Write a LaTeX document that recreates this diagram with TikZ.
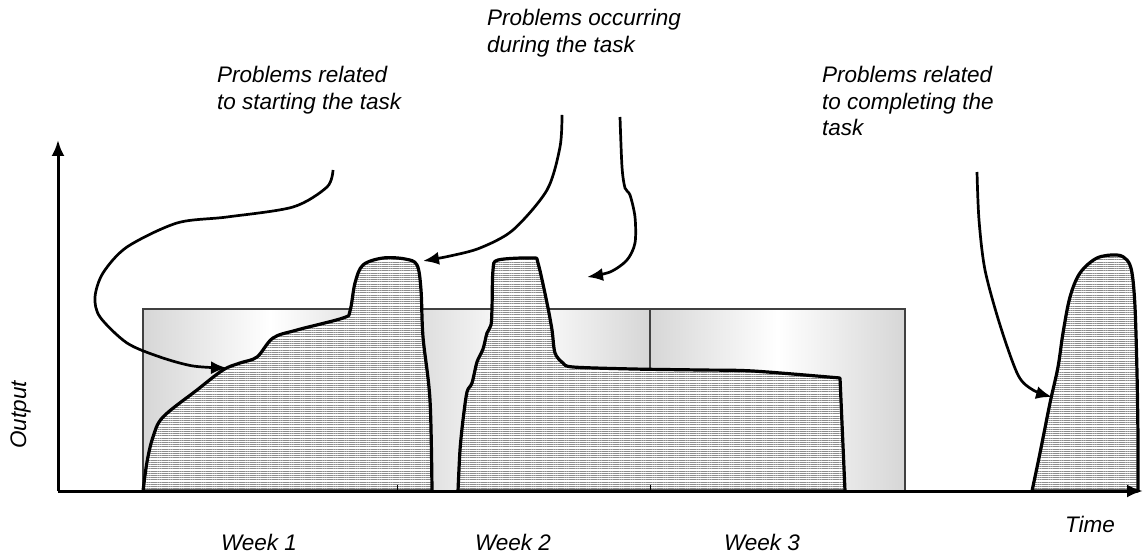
\documentclass[tikz,border=0pt]{standalone}
\usepackage{fontspec}
\setmainfont{Liberation Sans}
\usetikzlibrary{arrows.meta, patterns.meta, positioning}
\tikzset{>={Latex[length=16pt,width=13pt]},
axis/.style={->,line width=3pt},
weekbox/.style={draw=black!75,line width=1.4pt,left color=black!16,right color=black!16,middle color=white},
outputcurve/.style={draw,line width=3.2pt,line join=round,preaction={fill=white},
  pattern={Lines[angle=0,distance=2.2pt,line width=0.9pt]},pattern color=black!45},
cause/.style={->,line width=2.7pt},
lbl/.style={font=\itshape\fontsize{22.5}{26.5}\selectfont,inner sep=0pt,align=left}
}

\begin{document}
\begin{tikzpicture}[x=1pt,y=-1pt]
\useasboundingbox (0,0) rectangle (1143,559);
% the three weeks
\draw[weekbox] (143,309) rectangle (397,491);
\draw[weekbox] (397,309) rectangle (650,491);
\draw[weekbox] (650,309) rectangle (905,491);
% output over time
\draw[outputcurve] plot[smooth,tension=0.55] coordinates {(143,491) (147,462) (153,437) (163,417)
  (197,390) (223,370) (240,363) (257,357) (273,338) (297,330) (343,318) (350,311) (355,283)
  (363,265) (383,258) (405,259) (417,265) (421,290) (423,337) (430,400) (432,491)} -- cycle;
\draw[outputcurve] plot[smooth,tension=0.5] coordinates {(458,491) (460,450) (463,420) (467,392)
  (472,383) (477,362) (483,349) (487,333) (491,325) (492,308) (493,270) (498,260) (533,258)
  (538,263) (547,303) (552,330) (555,353) (563,363) (573,367) (633,369) (700,370) (753,371)
  (840,378)} -- (845,491) -- cycle;
\draw[outputcurve] plot[smooth,tension=0.55] coordinates {(1032,491) (1040,453) (1050,403)
  (1058,367) (1063,333) (1070,297) (1080,273) (1097,258) (1117,255) (1127,260) (1132,273)
  (1135,307) (1137,373) (1138,440) (1138,491)} -- cycle;
% axes
\coordinate (origin) at (58,491);
\coordinate (ytop) at (58,140);
\coordinate (xend) at (1143,491);
\draw[axis] (origin) -- (ytop);
\draw[axis] (origin) -- (xend);
\foreach \t in {397,650}
  \draw[line width=1pt] (\t,491) -- (\t,485);
% labels
\node[lbl,anchor=north west] (startlbl) at (217,66) {Problems related\\to starting the task};
\node[lbl,anchor=north west] (duringlbl) at (487,9) {Problems occurring\\during the task};
\node[lbl,anchor=north west] (completelbl) at (822,66) {Problems related\\to completing the\\task};
\node[lbl,anchor=base] (week1) at (259,550) {Week 1};
\node[lbl,anchor=base] (week2) at (513,550) {Week 2};
\node[lbl,anchor=base] (week3) at (762,550) {Week 3};
\node[lbl,anchor=base] (timelbl) at (1090,532) {Time};
\node[lbl,anchor=base,rotate=90] (outputlbl) at (26,415) {Output};
% problem arrows
\coordinate (startA) at (333,170);
\coordinate (tipA) at (227,368);
\coordinate (startB) at (562,115);
\coordinate (tipB) at (423,261);
\coordinate (startC) at (620,117);
\coordinate (tipC) at (587,277);
\coordinate (startD) at (977,172);
\coordinate (tipD) at (1052,397);
\draw[cause] plot[smooth] coordinates {(startA) (327,187) (293,207) (227,217) (177,223) (127,247)
  (103,273) (95,297) (100,317) (127,343) (160,357) (193,366) (tipA)};
\draw[cause] plot[smooth] coordinates {(startB) (560,147) (547,190) (513,230) (480,248) (450,256) (tipB)};
\draw[cause] plot[smooth] coordinates {(startC) (622,167) (625,188) (630,195) (635,217) (635,243)
  (627,260) (610,272) (tipC)};
\draw[cause] plot[smooth] coordinates {(startD) (979,220) (985,270) (1000,325) (1018,375) (1033,390) (tipD)};
\end{tikzpicture}
\end{document}
